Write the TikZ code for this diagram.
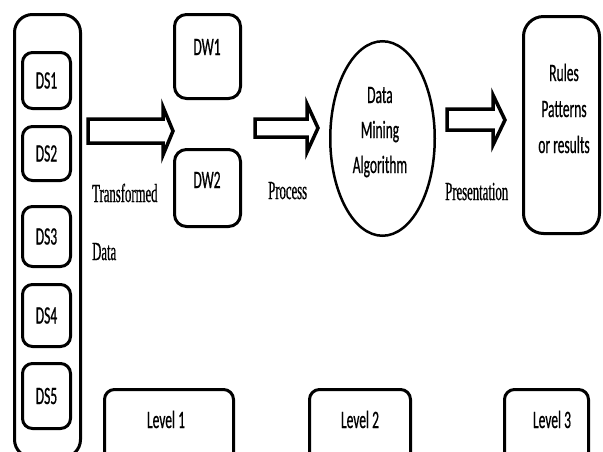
\documentclass[tikz,border=0pt]{standalone}
\usepackage{fontspec}
\usetikzlibrary{shapes.geometric}
\newfontfamily\calfont[FakeStretch=0.54,FakeBold=0.6]{Carlito}
\newfontfamily\serfont[FakeStretch=0.49,FakeBold=0.6]{Liberation Serif}
\begin{document}
\begin{tikzpicture}[x=1pt,y=-1pt,
  rbox/.style={draw, line width=3pt, rounded corners=#1, inner sep=0pt,
    font=\calfont\fontsize{25}{36}\selectfont},
  lbl/.style={font=\calfont\fontsize{25}{36}\selectfont, inner sep=0pt, anchor=base},
  slbl/.style={font=\serfont\fontsize{26}{30}\selectfont, inner sep=0pt, anchor=base west},
  barrow/.style={draw, line width=3.5pt, line join=miter, fill=white}]
\useasboundingbox (0,0) rectangle (603,451);
% source container
\node[rbox=18pt, minimum width=66pt, minimum height=443pt] (src) at (47.5,236) {};
\node[rbox=10pt, minimum width=48pt, minimum height=56pt] (ds1) at (46.5,80.5) {DS1};
\node[rbox=10pt, minimum width=48pt, minimum height=54pt] (ds2) at (46.5,153.5) {DS2};
\node[rbox=10pt, minimum width=48pt, minimum height=60pt] (ds3) at (46.5,236.5) {DS3};
\node[rbox=10pt, minimum width=48pt, minimum height=62pt] (ds4) at (46.5,315.5) {DS4};
\node[rbox=10pt, minimum width=48pt, minimum height=65pt] (ds5) at (46.5,396) {DS5};
% warehouses
\node[rbox=12pt, minimum width=66pt, minimum height=84pt] (dw1) at (207.5,56.5) {};
\node[rbox=12pt, minimum width=66pt, minimum height=77pt] (dw2) at (207.5,188) {};
\node[lbl] (dw1t) at (207,55) {DW1};
\node[lbl] (dw2t) at (207,188) {DW2};
% mining
\node[draw, ellipse, line width=2.5pt, minimum width=104.5pt, minimum height=194.5pt, inner sep=0pt] (dm) at (382.5,138.5) {};
\node[lbl] (dm1) at (380,103) {Data};
\node[lbl] (dm2) at (380,138) {Mining};
\node[lbl] (dm3) at (380,173) {Algorithm};
% results
\node[rbox=20pt, minimum width=76pt, minimum height=217pt] (res) at (561.5,125) {};
\node[lbl] (r1) at (564,81) {Rules};
\node[lbl] (r2) at (564,117) {Patterns};
\node[lbl] (r3) at (564,153) {or results};
% levels
\node[rbox=10pt, minimum width=129pt, minimum height=75.5pt] (lv1) at (169,427.25) {};
\node[rbox=10pt, minimum width=101pt, minimum height=75.5pt] (lv2) at (360,427.25) {};
\node[rbox=10pt, minimum width=84pt, minimum height=75.5pt] (lv3) at (546.5,427.25) {};
\node[lbl] (lv1t) at (166,428) {Level 1};
\node[lbl] (lv2t) at (360,428) {Level 2};
\node[lbl] (lv3t) at (552,428) {Level 3};
% block arrows
\draw[barrow] (88,119) -- (163,119) -- (163,107) -- (173,131) -- (163,155) -- (163,143) -- (88,143) -- cycle;
\draw[barrow] (255,119) -- (307,119) -- (307,104) -- (318,128) -- (307,152) -- (307,137) -- (255,137) -- cycle;
\draw[barrow] (447,109) -- (493,109) -- (493,95) -- (505,120) -- (493,145) -- (493,130) -- (447,130) -- cycle;
% labels
\node[slbl] (tr1) at (92,202) {Transformed};
\node[slbl] (tr2) at (92,260) {Data};
\node[slbl] (proc) at (268,199) {Process};
\node[slbl] (pres) at (445,200) {Presentation};
\end{tikzpicture}
\end{document}
